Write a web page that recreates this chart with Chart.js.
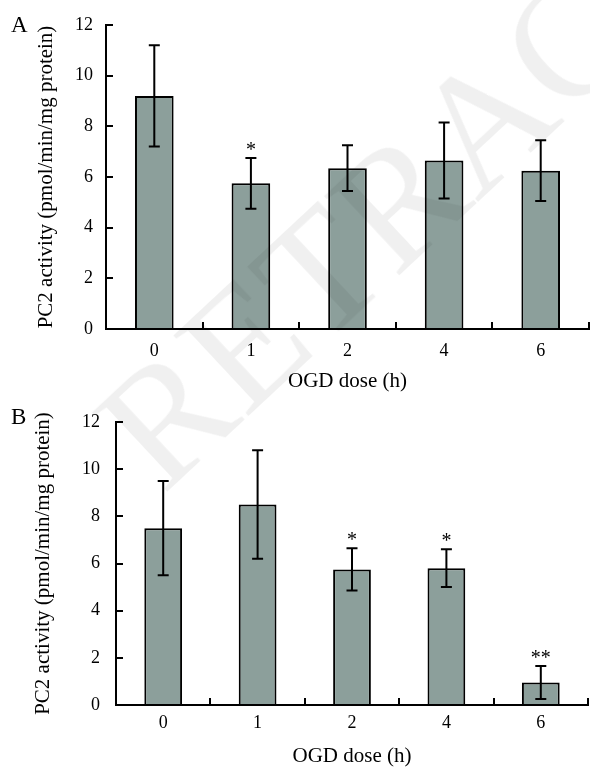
<!DOCTYPE html>
<html><head><meta charset="utf-8">
<script src="https://cdn.jsdelivr.net/npm/chart.js@4.4.0/dist/chart.umd.min.js"></script>
<style>
html,body{margin:0;padding:0;background:#fff;width:590px;height:767px;overflow:hidden;}
#wrapA{position:absolute;left:0;top:0;width:590px;height:392px;}
#wrapB{position:absolute;left:0;top:392px;width:590px;height:375px;}
#wm{position:absolute;left:124px;top:370px;height:168px;line-height:168px;font-family:'Liberation Serif',serif;font-size:168px;color:rgba(0,0,0,0.06);white-space:nowrap;transform-origin:0 50%;transform:rotate(-43deg);pointer-events:none;z-index:5;}
</style>
</head><body>
<div id="wrapA"><canvas id="chartA" width="590" height="392"></canvas></div>
<div id="wrapB"><canvas id="chartB" width="590" height="375"></canvas></div>
<div id="wm">RETRACTED</div>
<script>
// ---- data ----
const categories = ['0', '1', '2', '4', '6'];
const meansA = [9.2, 5.75, 6.35, 6.65, 6.25];
const errorsA = [2.0, 1.0, 0.9, 1.5, 1.2];
const sigA = ['', '*', '', '', ''];
const meansB = [7.5, 8.5, 5.75, 5.8, 0.95];
const errorsB = [2.0, 2.3, 0.9, 0.8, 0.7];
const sigB = ['', '', '*', '*', '**'];
const yTickValues = [0, 2, 4, 6, 8, 10, 12];
const yTitle = 'PC2 activity (pmol/min/mg protein)';
const xTitle = 'OGD dose (h)';

Chart.defaults.font.family = "'Liberation Serif', 'Times New Roman', serif";
Chart.defaults.color = '#000';

const BAR_COLOR = '#8c9f9b';

const errorPlugin = {
  id: 'errorBarsSig',
  afterDatasetsDraw(chart) {
    const o = chart.options.plugins.errorBarsSig;
    const ctx = chart.ctx;
    const xs = chart.scales.x, ys = chart.scales.y;
    const data = chart.data.datasets[0].data;
    ctx.save();
    ctx.strokeStyle = '#000';
    ctx.lineWidth = 2;
    data.forEach((v, i) => {
      const x = xs.getPixelForValue(i);
      const yt = ys.getPixelForValue(v + o.errors[i]);
      const yb = ys.getPixelForValue(v - o.errors[i]);
      ctx.beginPath();
      ctx.moveTo(x, yt); ctx.lineTo(x, yb);
      ctx.moveTo(x - 5.5, yt); ctx.lineTo(x + 5.5, yt);
      ctx.moveTo(x - 5.5, yb); ctx.lineTo(x + 5.5, yb);
      ctx.stroke();
      if (o.sig[i]) {
        ctx.fillStyle = '#000';
        ctx.font = "20px 'Liberation Serif', serif";
        ctx.textAlign = 'center';
        ctx.textBaseline = 'alphabetic';
        ctx.fillText(o.sig[i], x, yt - 2);
      }
    });
    ctx.restore();
  },
  afterDraw(chart) {
    const o = chart.options.plugins.errorBarsSig;
    const ctx = chart.ctx;
    ctx.save();
    ctx.fillStyle = '#000';
    ctx.font = "23px 'Liberation Serif', serif";
    ctx.textAlign = 'left';
    ctx.textBaseline = 'alphabetic';
    ctx.fillText(o.letter, 11, 32);
    ctx.restore();
  }
};

function makeChart(id, means, errors, sig, cfg) {
  const gridOpts = {display: true, drawOnChartArea: false, drawTicks: true, tickLength: -7, color: '#000', lineWidth: 2};
  return new Chart(document.getElementById(id), {
    type: 'bar',
    data: {
      labels: categories,
      datasets: [{
        data: means,
        backgroundColor: BAR_COLOR,
        borderColor: '#000',
        borderWidth: 2,
        borderSkipped: 'start',
        barPercentage: 0.4,
        categoryPercentage: 1.0
      }]
    },
    options: {
      responsive: false,
      animation: false,
      layout: {padding: {left: 0, right: cfg.padRight, top: cfg.padTop, bottom: 0}},
      plugins: {
        legend: {display: false},
        tooltip: {enabled: false},
        errorBarsSig: {errors: errors, sig: sig, letter: cfg.letter}
      },
      scales: {
        x: {
          type: 'category',
          offset: true,
          grid: Object.assign({offset: true}, gridOpts),
          border: {display: true, color: '#000', width: 2},
          ticks: {color: '#000', font: {size: 18}, padding: cfg.xTickPad, maxRotation: 0},
          title: {display: true, text: xTitle, color: '#000', font: {size: 21, lineHeight: 1}, padding: {top: 0, bottom: cfg.xTitlePad}},
          afterFit: s => { s.height = cfg.xHeight; s.paddingLeft = 0; s.paddingRight = 0; }
        },
        y: {
          min: 0, max: 12,
          grid: gridOpts,
          border: {display: true, color: '#000', width: 2},
          afterBuildTicks: s => { s.ticks = yTickValues.map(v => ({value: v})); },
          ticks: {color: '#000', font: {size: 18}, padding: cfg.yTickPad},
          title: {display: true, text: yTitle, color: '#000', font: {size: 21, lineHeight: 1}, padding: {top: cfg.yTitlePad, bottom: 0}},
          afterFit: s => { s.width = cfg.yWidth; s.paddingTop = 0; s.paddingBottom = 0; }
        }
      }
    },
    plugins: [errorPlugin]
  });
}

makeChart('chartA', meansA, errorsA, sigA, {
  letter: 'A', padRight: 1, padTop: 25, xHeight: 63, yWidth: 106,
  xTickPad: 18, xTitlePad: 0.5, yTickPad: 20, yTitlePad: 35.5
});
makeChart('chartB', meansB, errorsB, sigB, {
  letter: 'B', padRight: 2, padTop: 30, xHeight: 62, yWidth: 116,
  xTickPad: 14, xTitlePad: 0.5, yTickPad: 23, yTitlePad: 32.5
});
</script>
</body></html>
